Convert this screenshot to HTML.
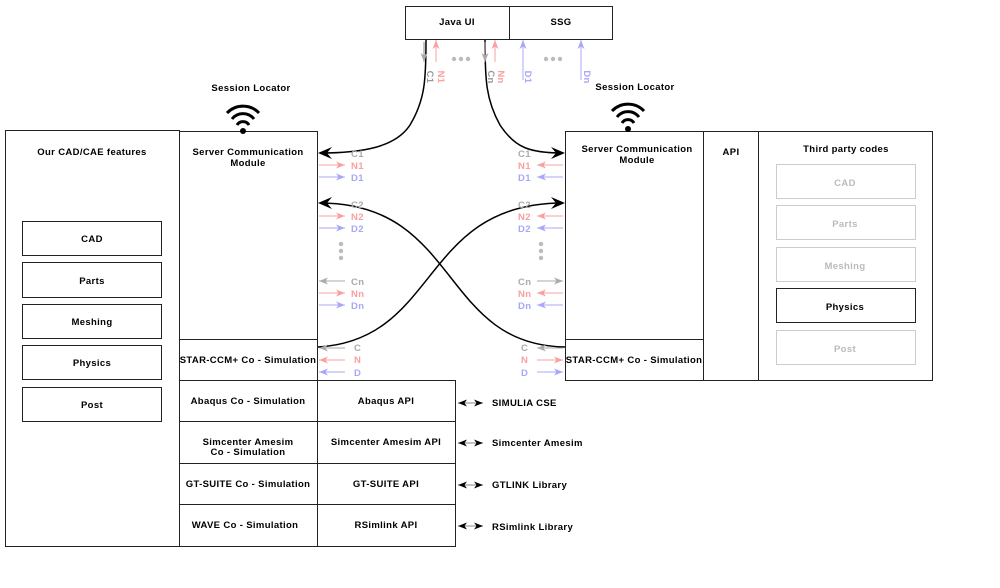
<!DOCTYPE html>
<html><head><meta charset="utf-8"><style>
html,body{margin:0;padding:0;background:#fff;}
svg{display:block;}
text{font-family:"Liberation Sans",sans-serif;font-weight:bold;font-size:9.5px;letter-spacing:0.35px;}
</style></head><body>
<svg width="1000" height="588" viewBox="0 0 1000 588" xmlns="http://www.w3.org/2000/svg">
<defs>
<marker id="big" markerWidth="14" markerHeight="12" refX="12" refY="6" orient="auto" markerUnits="userSpaceOnUse"><path d="M0,0 L14,6 L0,12 L5,6 z" fill="#000"/></marker>
<marker id="ag" markerWidth="9" markerHeight="7" refX="9" refY="3.5" orient="auto" markerUnits="userSpaceOnUse"><path d="M0,0 L9,3.5 L0,7 L2.5,3.5 z" fill="#aaa"/></marker>
<marker id="ap" markerWidth="9" markerHeight="7" refX="9" refY="3.5" orient="auto" markerUnits="userSpaceOnUse"><path d="M0,0 L9,3.5 L0,7 L2.5,3.5 z" fill="#f9a0a0"/></marker>
<marker id="ab" markerWidth="9" markerHeight="7" refX="9" refY="3.5" orient="auto" markerUnits="userSpaceOnUse"><path d="M0,0 L9,3.5 L0,7 L2.5,3.5 z" fill="#a8a8f8"/></marker>
<marker id="ak" markerWidth="9" markerHeight="7" refX="9" refY="3.5" orient="auto" markerUnits="userSpaceOnUse"><path d="M0,0 L9,3.5 L0,7 L2.5,3.5 z" fill="#000"/></marker>
<marker id="aks" markerWidth="9" markerHeight="7" refX="0" refY="3.5" orient="auto" markerUnits="userSpaceOnUse"><path d="M9,0 L0,3.5 L9,7 L6.5,3.5 z" fill="#000"/></marker>
</defs>
<g fill="none" stroke="#222" stroke-width="1">
<rect x="405.5" y="6.5" width="104" height="33"/>
<rect x="509.5" y="6.5" width="103" height="33"/>
<rect x="5.5" y="130.5" width="174" height="416"/>
<rect x="22.5" y="221.5" width="139" height="34"/>
<rect x="22.5" y="262.5" width="139" height="35"/>
<rect x="22.5" y="304.5" width="139" height="34"/>
<rect x="22.5" y="345.5" width="139" height="34"/>
<rect x="22.5" y="387.5" width="139" height="34"/>
<rect x="179.5" y="131.5" width="138" height="208"/>
<rect x="179.5" y="339.5" width="138" height="41"/>
<rect x="179.5" y="380.5" width="138" height="41"/>
<rect x="317.5" y="380.5" width="138" height="41"/>
<rect x="179.5" y="421.5" width="138" height="42"/>
<rect x="317.5" y="421.5" width="138" height="42"/>
<rect x="179.5" y="463.5" width="138" height="41"/>
<rect x="317.5" y="463.5" width="138" height="41"/>
<rect x="179.5" y="504.5" width="138" height="42"/>
<rect x="317.5" y="504.5" width="138" height="42"/>
<rect x="565.5" y="131.5" width="138" height="208"/>
<rect x="565.5" y="339.5" width="138" height="41"/>
<rect x="703.5" y="131.5" width="55" height="249"/>
<rect x="758.5" y="131.5" width="174" height="249"/>
<g stroke="#ccc"><rect x="776.5" y="164.5" width="139" height="34"/><rect x="776.5" y="205.5" width="139" height="34"/><rect x="776.5" y="247.5" width="139" height="34"/><rect x="776.5" y="330.5" width="139" height="34"/></g>
<rect x="776.5" y="288.5" width="139" height="34"/>
</g>
<g fill="none" stroke="#000" stroke-width="3">
<path d="M227,113 A22,22 0 0 1 259,113"/><path d="M232,119 A14,14 0 0 1 254,119"/><path d="M237,125 A7,7 0 0 1 249,125"/>
<path d="M612,111 A22,22 0 0 1 644,111"/><path d="M617,117 A14,14 0 0 1 639,117"/><path d="M622,123 A7,7 0 0 1 634,123"/>
</g>
<circle cx="243" cy="131" r="3"/><circle cx="628" cy="129" r="3"/>
<g fill="none" stroke="#000" stroke-width="1.5">
<path d="M426,40 C426,80 425,100 410,125 C395,148 360,153 320,153" marker-end="url(#big)"/>
<path d="M485,40 C485,80 486,100 500,125 C515,148 530,153 563,153" marker-end="url(#big)"/>
<path d="M318,347 C440,340 420,203 563,203" marker-end="url(#big)"/>
<path d="M565,347 C440,345 460,203 320,203" marker-end="url(#big)"/>
</g>
<g fill="none" stroke-width="1">
<path d="M424,42 L424,62" stroke="#888" marker-end="url(#ag)"/>
<path d="M436,62 L436,40" stroke="#f9a0a0" marker-end="url(#ap)"/>
<path d="M485,42 L485,62" stroke="#888" marker-end="url(#ag)"/>
<path d="M495,62 L495,40" stroke="#f9a0a0" marker-end="url(#ap)"/>
<path d="M523,80 L523,40" stroke="#a8a8f8" marker-end="url(#ab)"/>
<path d="M581,80 L581,40" stroke="#a8a8f8" marker-end="url(#ab)"/>
</g>
<g fill="#bbb"><circle cx="454" cy="59" r="2.2"/><circle cx="461" cy="59" r="2.2"/><circle cx="468" cy="59" r="2.2"/><circle cx="546" cy="59" r="2.2"/><circle cx="553" cy="59" r="2.2"/><circle cx="560" cy="59" r="2.2"/>
<circle cx="341" cy="244" r="2.2"/><circle cx="341" cy="251" r="2.2"/><circle cx="341" cy="258" r="2.2"/><circle cx="541" cy="244" r="2.2"/><circle cx="541" cy="251" r="2.2"/><circle cx="541" cy="258" r="2.2"/></g>
<g text-anchor="middle">
<text transform="translate(427,77) rotate(90)" fill="#999">C1</text>
<text transform="translate(438,77) rotate(90)" fill="#f9a0a0">N1</text>
<text transform="translate(488,77) rotate(90)" fill="#999">Cn</text>
<text transform="translate(498,77) rotate(90)" fill="#f9a0a0">Nn</text>
<text transform="translate(525,77) rotate(90)" fill="#a8a8f8">D1</text>
<text transform="translate(584,77) rotate(90)" fill="#a8a8f8">Dn</text>
</g>
<g fill="none" stroke-width="1">
<path d="M319,165 L345,165" stroke="#f9a0a0" marker-end="url(#ap)"/>
<path d="M319,177 L345,177" stroke="#a8a8f8" marker-end="url(#ab)"/>
<path d="M319,216 L345,216" stroke="#f9a0a0" marker-end="url(#ap)"/>
<path d="M319,228 L345,228" stroke="#a8a8f8" marker-end="url(#ab)"/>
<path d="M345,281 L319,281" stroke="#aaa" marker-end="url(#ag)"/>
<path d="M319,293 L345,293" stroke="#f9a0a0" marker-end="url(#ap)"/>
<path d="M319,305 L345,305" stroke="#a8a8f8" marker-end="url(#ab)"/>
<path d="M345,348 L319,348" stroke="#aaa" marker-end="url(#ag)"/>
<path d="M345,360 L319,360" stroke="#f9a0a0" marker-end="url(#ap)"/>
<path d="M345,372 L319,372" stroke="#a8a8f8" marker-end="url(#ab)"/>
<path d="M563,165 L537,165" stroke="#f9a0a0" marker-end="url(#ap)"/>
<path d="M563,177 L537,177" stroke="#a8a8f8" marker-end="url(#ab)"/>
<path d="M563,216 L537,216" stroke="#f9a0a0" marker-end="url(#ap)"/>
<path d="M563,228 L537,228" stroke="#a8a8f8" marker-end="url(#ab)"/>
<path d="M537,281 L563,281" stroke="#aaa" marker-end="url(#ag)"/>
<path d="M563,293 L537,293" stroke="#f9a0a0" marker-end="url(#ap)"/>
<path d="M563,305 L537,305" stroke="#a8a8f8" marker-end="url(#ab)"/>
<path d="M563,348 L537,348" stroke="#aaa" marker-end="url(#ag)"/>
<path d="M537,360 L563,360" stroke="#f9a0a0" marker-end="url(#ap)"/>
<path d="M537,372 L563,372" stroke="#a8a8f8" marker-end="url(#ab)"/>
<path d="M458,403 L483,403" stroke="#888" marker-start="url(#aks)" marker-end="url(#ak)"/>
<path d="M458,443 L483,443" stroke="#888" marker-start="url(#aks)" marker-end="url(#ak)"/>
<path d="M458,485 L483,485" stroke="#888" marker-start="url(#aks)" marker-end="url(#ak)"/>
<path d="M458,526 L483,526" stroke="#888" marker-start="url(#aks)" marker-end="url(#ak)"/>
</g>
<g>
<text x="351" y="157" fill="#aaa">C1</text><text x="351" y="169" fill="#f9a0a0">N1</text><text x="351" y="181" fill="#a8a8f8">D1</text>
<text x="351" y="208" fill="#aaa">C2</text><text x="351" y="220" fill="#f9a0a0">N2</text><text x="351" y="232" fill="#a8a8f8">D2</text>
<text x="351" y="285" fill="#aaa">Cn</text><text x="351" y="297" fill="#f9a0a0">Nn</text><text x="351" y="309" fill="#a8a8f8">Dn</text>
<text x="354" y="351" fill="#aaa">C</text><text x="354" y="363" fill="#f9a0a0">N</text><text x="354" y="376" fill="#a8a8f8">D</text>
<text x="518" y="157" fill="#aaa">C1</text><text x="518" y="169" fill="#f9a0a0">N1</text><text x="518" y="181" fill="#a8a8f8">D1</text>
<text x="518" y="208" fill="#aaa">C2</text><text x="518" y="220" fill="#f9a0a0">N2</text><text x="518" y="232" fill="#a8a8f8">D2</text>
<text x="518" y="285" fill="#aaa">Cn</text><text x="518" y="297" fill="#f9a0a0">Nn</text><text x="518" y="309" fill="#a8a8f8">Dn</text>
<text x="521" y="351" fill="#aaa">C</text><text x="521" y="363" fill="#f9a0a0">N</text><text x="521" y="376" fill="#a8a8f8">D</text>
</g>
<g text-anchor="middle" fill="#000">
<text x="457" y="25">Java UI</text><text x="561" y="25">SSG</text>
<text x="251" y="91">Session Locator</text><text x="635" y="90">Session Locator</text>
<text x="92" y="155">Our CAD/CAE features</text>
<text x="92" y="242">CAD</text><text x="92" y="284">Parts</text><text x="92" y="325">Meshing</text><text x="92" y="366">Physics</text><text x="92" y="408">Post</text>
<text x="248" y="155">Server Communication</text><text x="248" y="166">Module</text>
<text x="248" y="363">STAR-CCM+ Co - Simulation</text>
<text x="248" y="404">Abaqus Co - Simulation</text><text x="386" y="404">Abaqus API</text>
<text x="248" y="445">Simcenter Amesim</text><text x="248" y="455">Co - Simulation</text><text x="386" y="445">Simcenter Amesim API</text>
<text x="248" y="487">GT-SUITE Co - Simulation</text><text x="386" y="487">GT-SUITE API</text>
<text x="245" y="528">WAVE Co - Simulation</text><text x="386" y="528">RSimlink API</text>
<text x="637" y="152">Server Communication</text><text x="637" y="163">Module</text>
<text x="634" y="363">STAR-CCM+ Co - Simulation</text>
<text x="731" y="155">API</text>
<text x="846" y="152">Third party codes</text>
<text x="845" y="186" fill="#bbb">CAD</text><text x="845" y="227" fill="#bbb">Parts</text><text x="845" y="269" fill="#bbb">Meshing</text><text x="845" y="310">Physics</text><text x="845" y="352" fill="#bbb">Post</text>
</g>
<g fill="#000">
<text x="492" y="406">SIMULIA CSE</text><text x="492" y="446">Simcenter Amesim</text><text x="492" y="488">GTLINK Library</text><text x="492" y="530">RSimlink Library</text>
</g>
</svg>
</body></html>
